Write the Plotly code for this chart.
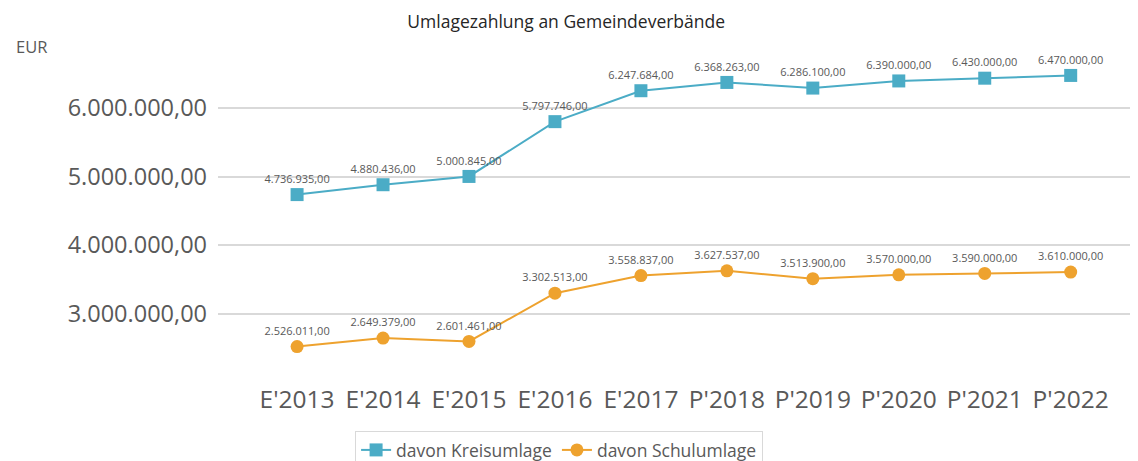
import plotly.graph_objects as go

years = ["E'2013", "E'2014", "E'2015", "E'2016", "E'2017",
         "P'2018", "P'2019", "P'2020", "P'2021", "P'2022"]
kreisumlage = [4736935, 4880436, 5000845, 5797746, 6247684,
               6368263, 6286100, 6390000, 6430000, 6470000]
schulumlage = [2526011, 2649379, 2601461, 3302513, 3558837,
               3627537, 3513900, 3570000, 3590000, 3610000]
y_ticks = [3000000, 4000000, 5000000, 6000000]

TEAL = "#4bacc6"
ORANGE = "#eea22e"
GREY = "#595959"
FONT = "Open Sans"

fig = go.Figure()
fig.add_trace(go.Scatter(
    x=years, y=kreisumlage,
    name="davon Kreisumlage",
    mode="lines+markers+text",
    line=dict(color=TEAL, width=2),
    marker=dict(symbol="square", size=13, color=TEAL),
    texttemplate="%{y:,.2f}",
    textposition="top center",
    textfont=dict(size=11, color=GREY),
))
fig.add_trace(go.Scatter(
    x=years, y=schulumlage,
    name="davon Schulumlage",
    mode="lines+markers+text",
    line=dict(color=ORANGE, width=2),
    marker=dict(symbol="circle", size=13, color=ORANGE),
    texttemplate="%{y:,.2f}",
    textposition="top center",
    textfont=dict(size=11, color=GREY),
))

# unit label top left
fig.add_annotation(
    text="EUR", x=-0.224, y=0.976, xref="paper", yref="paper",
    xanchor="left", yanchor="middle", showarrow=False,
    font=dict(size=16.5, color=GREY, family=FONT),
)

# page body adds an 8px offset, so the figure is sized to the visible area
fig.update_layout(
    width=1130, height=453,
    paper_bgcolor="white", plot_bgcolor="white",
    separators=",.",
    font=dict(family=FONT, color=GREY),
    margin=dict(l=210, r=8, t=31, b=92, autoexpand=False),
    title=dict(text="Umlagezahlung an Gemeindeverbände", x=0.494, xanchor="center",
               y=0.97, yanchor="middle", automargin=False,
               font=dict(size=17.5, color="#262626")),
    xaxis=dict(range=[-0.92, 9.69], showgrid=False, showline=False, zeroline=False,
               automargin=False, ticks="", tickfont=dict(size=24.5, color=GREY),
               ticklabelstandoff=13),
    yaxis=dict(range=[2200000, 7000000], tickvals=y_ticks, tickformat=",.2f",
               gridcolor="#d9d9d9", gridwidth=1.5, zeroline=False, showline=False,
               automargin=False, tickfont=dict(size=23.5, color=GREY),
               ticklabelstandoff=10),
    showlegend=True,
    legend=dict(orientation="h", x=0.374, xanchor="center", y=-0.188, yanchor="top",
                bordercolor="#d9d9d9", borderwidth=1,
                font=dict(size=17.5, color=GREY, family=FONT)),
)

fig.write_html("out.html")
